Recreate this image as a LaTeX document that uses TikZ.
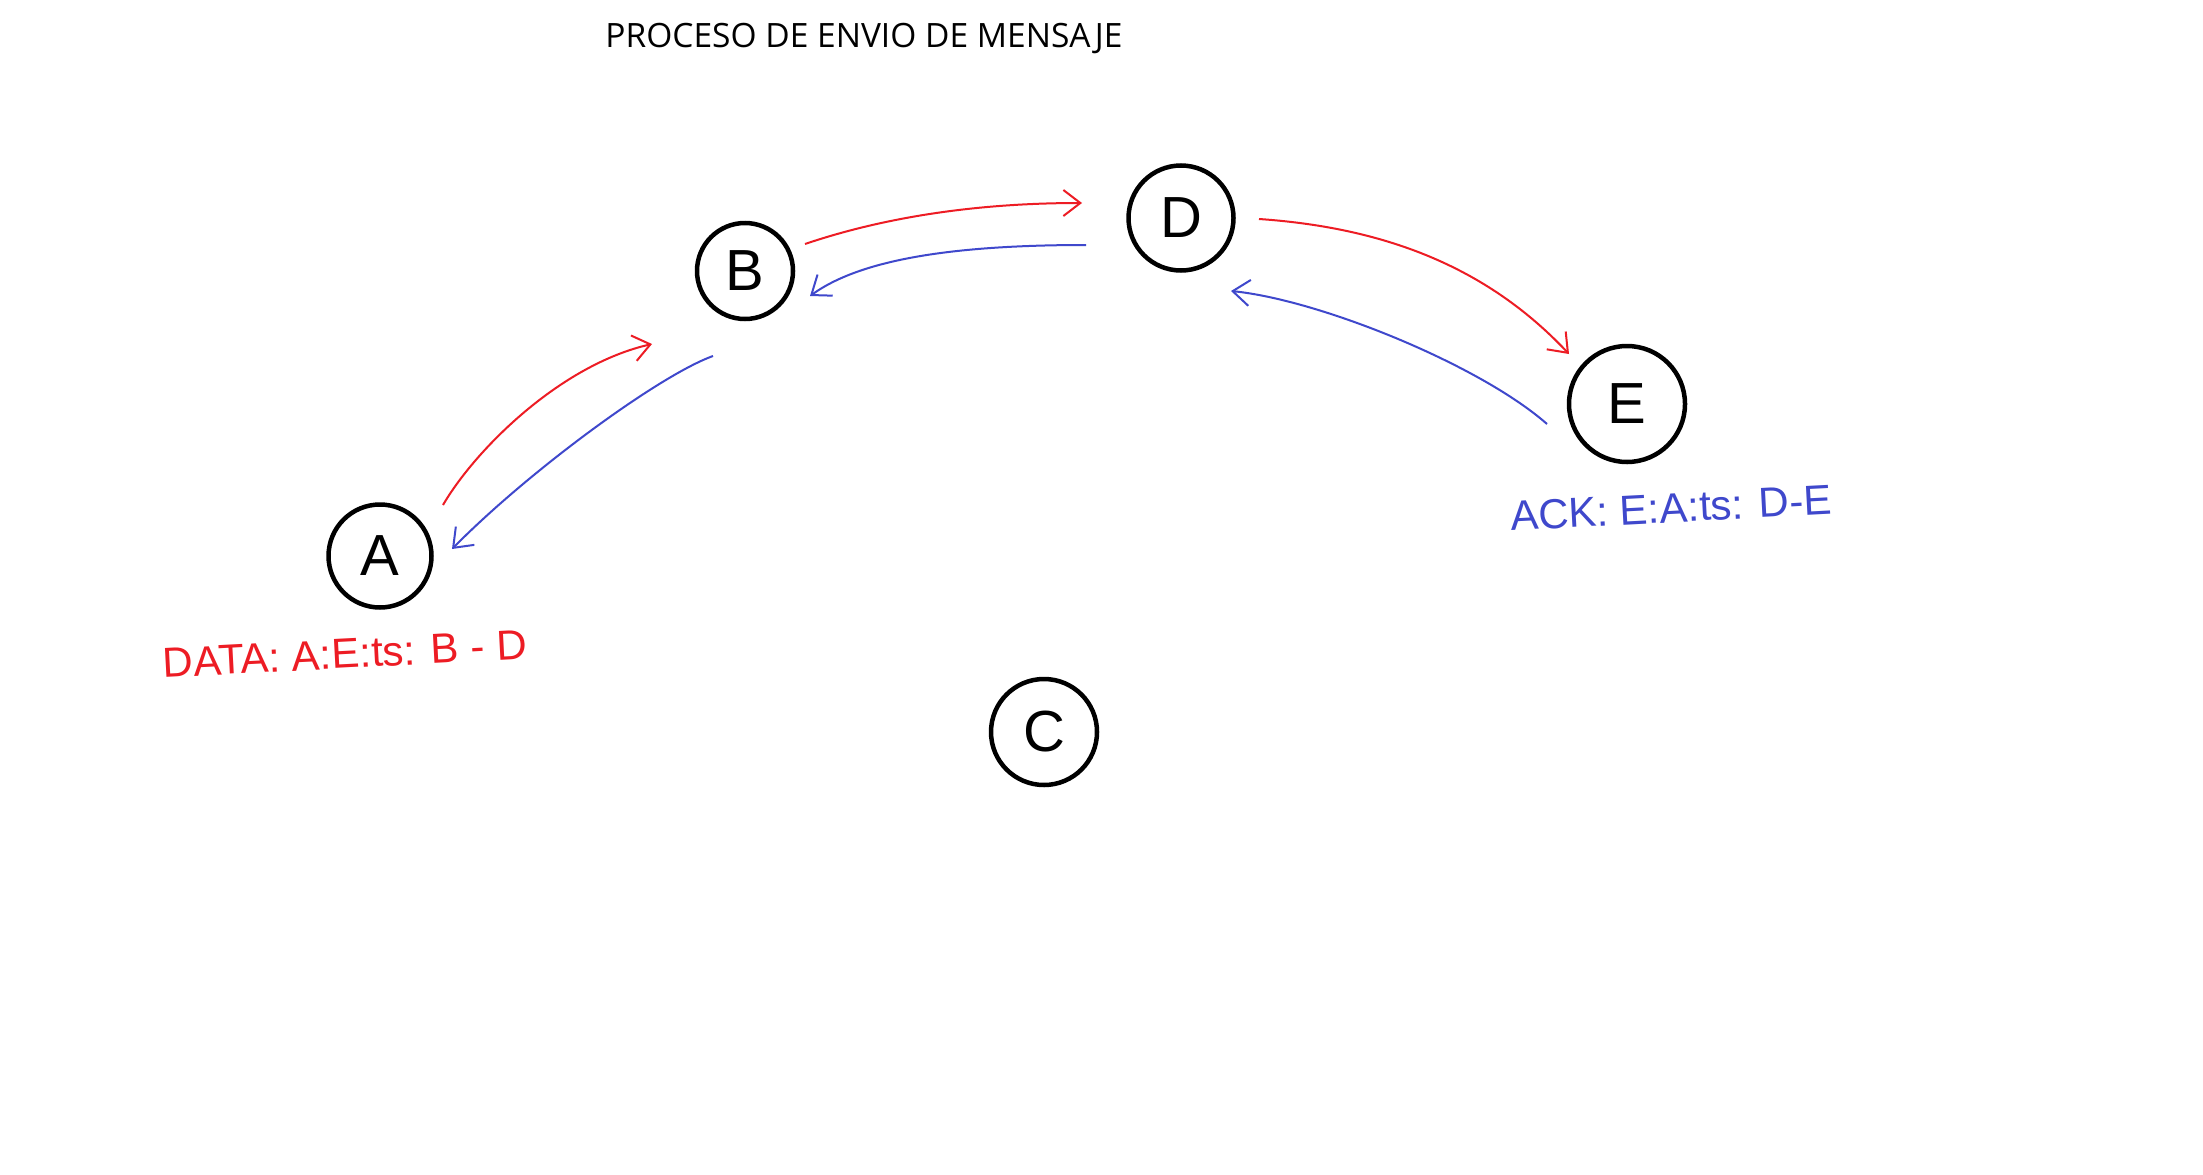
\documentclass[tikz,border=0pt]{standalone}
\usepackage{fontspec}
\setmainfont{Open Sans}
\newfontfamily\handfont{Liberation Sans}
\usetikzlibrary{arrows.meta}
\definecolor{pred}{HTML}{ED1C24}
\definecolor{pblue}{HTML}{3F48CC}
\begin{document}
\begin{tikzpicture}[x=1pt,y=-1pt,
  station/.style={circle,draw=black,line width=4.5pt,inner sep=0pt,
    font=\handfont\fontsize{58}{60}\selectfont},
  redarr/.style={draw=pred,line width=2pt,-{Straight Barb[length=17pt,width=26pt]}},
  bluearr/.style={draw=pblue,line width=2pt,-{Straight Barb[length=17pt,width=26pt]}},
  lbl/.style={inner sep=0pt,font=\handfont\fontsize{42}{44}\selectfont}]
\fill[white] (0,0) rectangle (2203,1175);
\useasboundingbox (0,0) rectangle (2203,1175);

\node[inner sep=0pt,anchor=base,font=\fontsize{33.5}{38}\selectfont] (title) at (864,47) {PROCESO DE ENVIO DE MENSAJE};

\node[station,minimum size=103pt] (A) at (380,556) {A};
\node[station,minimum size=96pt] (B) at (745,271) {B};
\node[station,minimum size=105pt] (D) at (1181,218) {D};
\node[station,minimum size=116pt] (E) at (1627,404) {E};
\node[station,minimum size=106pt] (C) at (1044,732) {C};

\node[lbl,text=pred,rotate=3] (datalbl) at (345,654) {DATA: A:E:ts: B - D};
\node[lbl,text=pblue,rotate=3] (acklbl) at (1671,508) {ACK: E:A:ts: D-E};

\coordinate (ab-s) at (443,505);
\coordinate (ab-e) at (652,344);
\coordinate (ba-s) at (713,356);
\coordinate (ba-e) at (452,549);
\coordinate (bd-s) at (805,244);
\coordinate (bd-e) at (1082,203);
\coordinate (db-s) at (1086,245);
\coordinate (db-e) at (810,296);
\coordinate (de-s) at (1259,219);
\coordinate (de-e) at (1569,354);
\coordinate (ed-s) at (1547,424);
\coordinate (ed-e) at (1231,291);

\draw[redarr] (ab-s) .. controls (475,450) and (560,365) .. (ab-e);
\draw[bluearr] (ba-s) .. controls (660,375) and (530,470) .. (ba-e);
\draw[redarr] (bd-s) .. controls (870,222) and (960,203) .. (bd-e);
\draw[bluearr] (db-s) .. controls (950,245) and (860,260) .. (db-e);
\draw[redarr] (de-s) .. controls (1390,228) and (1490,270) .. (de-e);
\draw[bluearr] (ed-s) .. controls (1480,365) and (1320,300) .. (ed-e);
\end{tikzpicture}
\end{document}
